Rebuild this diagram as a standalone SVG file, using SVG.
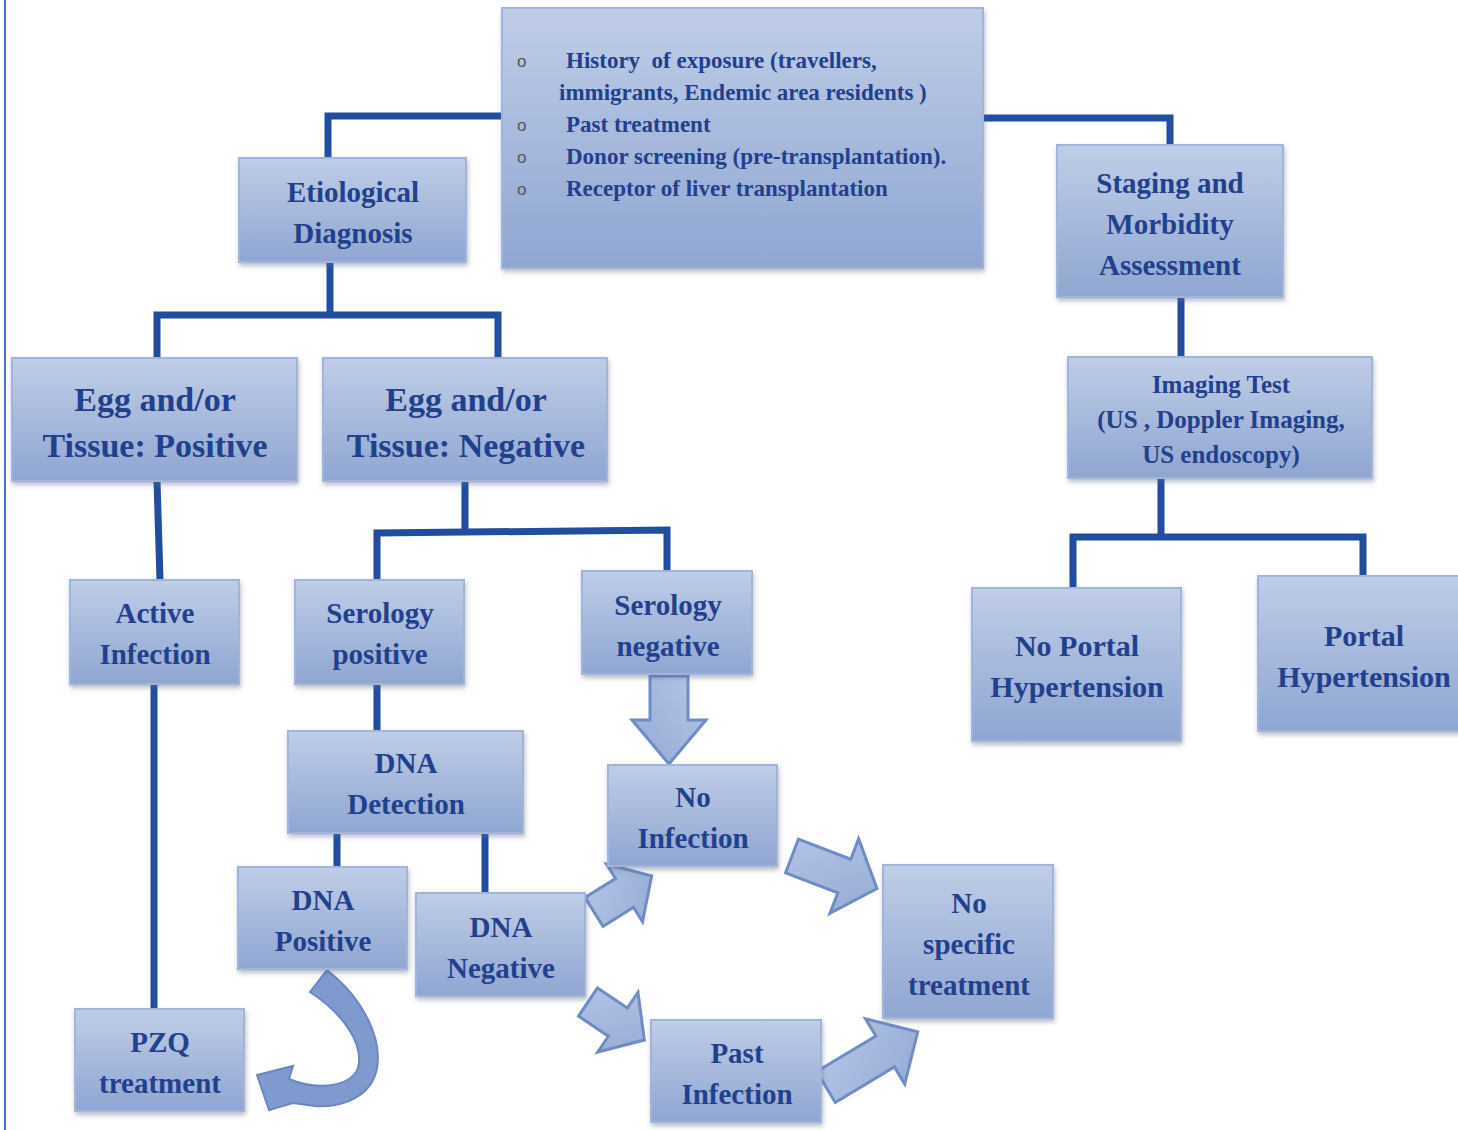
<svg xmlns="http://www.w3.org/2000/svg" width="1458" height="1130" viewBox="0 0 1458 1130">
<defs>
<linearGradient id="bg" x1="0" y1="0" x2="0" y2="1">
<stop offset="0" stop-color="#bfcde7"/>
<stop offset="1" stop-color="#8fa6d2"/>
</linearGradient>
<linearGradient id="ag" x1="0" y1="0" x2="1" y2="1">
<stop offset="0" stop-color="#b6c6e6"/>
<stop offset="1" stop-color="#93a9d4"/>
</linearGradient>
<filter id="sh" x="-10%" y="-10%" width="120%" height="125%">
<feDropShadow dx="1" dy="3" stdDeviation="2.5" flood-color="#5a6a8a" flood-opacity="0.45"/>
</filter>
<style>
.box{fill:url(#bg);stroke:#a3b4da;stroke-width:2;filter:url(#sh);}
.t{font-family:"Liberation Serif","Times New Roman",serif;font-weight:bold;fill:#22408c;text-anchor:middle;}
.t29{font-size:29px;}
.t34{font-size:34px;}
.t25{font-size:25px;}
.t30{font-size:30px;}
.tl{font-family:"Liberation Serif","Times New Roman",serif;font-weight:bold;fill:#22408c;font-size:23px;}
.bul{font-family:"Liberation Sans",Arial,sans-serif;font-size:17px;fill:#555;}
.ln{fill:none;stroke:#1f4ea0;stroke-width:7;stroke-linejoin:miter;stroke-linecap:butt;}
.ba{fill:url(#ag);stroke:#6f8cc6;stroke-width:3;stroke-linejoin:miter;}
.ca{fill:#7e9acf;stroke:#6a87c4;stroke-width:2;stroke-linejoin:miter;}
</style>
</defs>
<rect x="0" y="0" width="1458" height="1130" fill="#ffffff"/>
<line x1="5" y1="0" x2="5" y2="1130" stroke="#4472c4" stroke-width="2"/>

<g id="connectors">
<polyline class="ln" points="502,116 328,116 328,158"/>
<polyline class="ln" points="983,118 1170,118 1170,145"/>
<polyline class="ln" points="330,262 330,315"/>
<polyline class="ln" points="157,358 157,315 498,315 498,358"/>
<polyline class="ln" points="1181,297 1181,357"/>
<polyline class="ln" points="157,481 160,580"/>
<polyline class="ln" points="465,481 465,530"/>
<polyline class="ln" points="377,580 377,533 667,530 667,571"/>
<polyline class="ln" points="1161,478 1161,537"/>
<polyline class="ln" points="1073,588 1073,537 1363,537 1363,576"/>
<polyline class="ln" points="154,684 154,1009"/>
<polyline class="ln" points="377,684 377,731"/>
<polyline class="ln" points="337,833 337,867"/>
<polyline class="ln" points="485,833 485,893"/>
<polygon class="ba" points="0,-19 44,-19 44,-37 88,0 44,37 44,19 0,19" transform="translate(669,676) rotate(90)"/>
<polygon class="ba" points="0,-17 36,-17 36,-34 68,0 36,34 36,17 0,17" transform="translate(594,912) rotate(-32)"/>
<polygon class="ba" points="0,-17 36,-17 36,-36 68,0 36,36 36,17 0,17" transform="translate(588,1002) rotate(34)"/>
<polygon class="ba" points="0,-18 56,-18 56,-40 91,0 56,40 56,18 0,18" transform="translate(792,856) rotate(21)"/>
<polygon class="ba" points="0,-18 69,-18 69,-38 107,0 69,38 69,18 0,18" transform="translate(826,1087) rotate(-31)"/>
<path class="ca" d="M310,992 L327,970 C365,1000 382,1040 377,1068 C372,1095 345,1108 315,1106 L293,1103 L269,1110 L257,1075 L293,1066 L289,1079 C315,1090 350,1088 358,1068 C364,1045 345,1015 310,992 Z"/>
</g>

<g id="n-top">
<rect class="box" x="502" y="8" width="481" height="260"/>
<text class="bul" x="517" y="67">o</text>
<text class="bul" x="517" y="131">o</text>
<text class="bul" x="517" y="163">o</text>
<text class="bul" x="517" y="195">o</text>
<text class="tl" x="566" y="68">History&#160; of exposure (travellers,</text>
<text class="tl" x="559" y="100">immigrants, Endemic area residents )</text>
<text class="tl" x="566" y="132">Past treatment</text>
<text class="tl" x="566" y="164">Donor screening (pre-transplantation).</text>
<text class="tl" x="566" y="196">Receptor of liver transplantation</text>
</g>

<g id="n-etio">
<rect class="box" x="239" y="158" width="227" height="104"/>
<text class="t t29" x="353" y="202">Etiological</text>
<text class="t t29" x="353" y="243">Diagnosis</text>
</g>

<g id="n-staging">
<rect class="box" x="1057" y="145" width="226" height="152"/>
<text class="t t29" x="1170" y="193">Staging and</text>
<text class="t t29" x="1170" y="234">Morbidity</text>
<text class="t t29" x="1170" y="275">Assessment</text>
</g>

<g id="n-eggpos">
<rect class="box" x="12" y="358" width="285" height="123"/>
<text class="t t34" x="155" y="411">Egg and/or</text>
<text class="t t34" x="155" y="457">Tissue: Positive</text>
</g>

<g id="n-eggneg">
<rect class="box" x="323" y="358" width="284" height="123"/>
<text class="t t34" x="466" y="411">Egg and/or</text>
<text class="t t34" x="466" y="457">Tissue: Negative</text>
</g>

<g id="n-imaging">
<rect class="box" x="1068" y="357" width="304" height="121"/>
<text class="t t25" x="1221" y="393">Imaging Test</text>
<text class="t t25" x="1221" y="428">(US , Doppler Imaging,</text>
<text class="t t25" x="1221" y="463">US endoscopy)</text>
</g>

<g id="n-active">
<rect class="box" x="70" y="580" width="169" height="104"/>
<text class="t t29" x="155" y="623">Active</text>
<text class="t t29" x="155" y="664">Infection</text>
</g>

<g id="n-serpos">
<rect class="box" x="295" y="580" width="169" height="104"/>
<text class="t t29" x="380" y="623">Serology</text>
<text class="t t29" x="380" y="664">positive</text>
</g>

<g id="n-serneg">
<rect class="box" x="582" y="571" width="170" height="103"/>
<text class="t t29" x="668" y="615">Serology</text>
<text class="t t29" x="668" y="656">negative</text>
</g>

<g id="n-noportal">
<rect class="box" x="972" y="588" width="209" height="153"/>
<text class="t t30" x="1077" y="656">No Portal</text>
<text class="t t30" x="1077" y="697">Hypertension</text>
</g>

<g id="n-portal">
<rect class="box" x="1258" y="576" width="206" height="155"/>
<text class="t t30" x="1364" y="646">Portal</text>
<text class="t t30" x="1364" y="687">Hypertension</text>
</g>

<g id="n-dnadet">
<rect class="box" x="288" y="731" width="235" height="102"/>
<text class="t t29" x="406" y="773">DNA</text>
<text class="t t29" x="406" y="814">Detection</text>
</g>

<g id="n-noinf">
<rect class="box" x="608" y="765" width="169" height="101"/>
<text class="t t29" x="693" y="807">No</text>
<text class="t t29" x="693" y="848">Infection</text>
</g>

<g id="n-dnapos">
<rect class="box" x="238" y="867" width="169" height="102"/>
<text class="t t29" x="323" y="910">DNA</text>
<text class="t t29" x="323" y="951">Positive</text>
</g>

<g id="n-dnaneg">
<rect class="box" x="416" y="893" width="169" height="103"/>
<text class="t t29" x="501" y="937">DNA</text>
<text class="t t29" x="501" y="978">Negative</text>
</g>

<g id="n-nospec">
<rect class="box" x="883" y="865" width="170" height="153"/>
<text class="t t29" x="969" y="913">No</text>
<text class="t t29" x="969" y="954">specific</text>
<text class="t t29" x="969" y="995">treatment</text>
</g>

<g id="n-pzq">
<rect class="box" x="75" y="1009" width="169" height="102"/>
<text class="t t29" x="160" y="1052">PZQ</text>
<text class="t t29" x="160" y="1093">treatment</text>
</g>

<g id="n-past">
<rect class="box" x="651" y="1020" width="170" height="102"/>
<text class="t t29" x="737" y="1063">Past</text>
<text class="t t29" x="737" y="1104">Infection</text>
</g>
</svg>
